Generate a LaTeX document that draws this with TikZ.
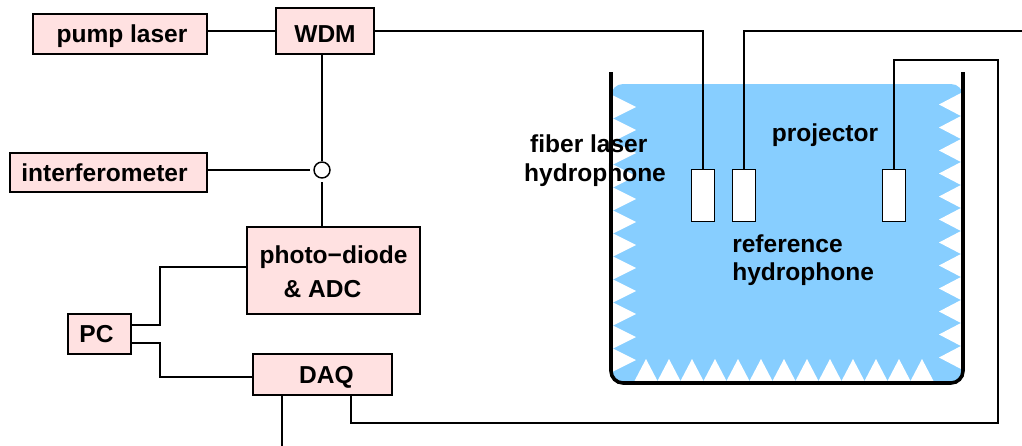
\documentclass[tikz,border=0pt]{standalone}
\usepackage{fontspec}
\setmainfont{Liberation Sans}
\usetikzlibrary{positioning,calc}
\definecolor{boxpink}{RGB}{255,225,225}
\definecolor{waterblue}{RGB}{135,206,255}

\begin{document}
\begin{tikzpicture}
  [x=0.75pt,y=-0.75pt,
   boxN/.style={rectangle,draw,fill=boxpink,line width=1.2pt,inner sep=0pt,
                text height=13.2pt,text depth=0pt,
                font=\fontsize{18.4}{25.5}\selectfont\bfseries},
   sensorN/.style={rectangle,draw,fill=white,line width=0.8pt,
                   minimum width=17pt,minimum height=39pt},
   couplerN/.style={circle,draw,fill=white,line width=1.1pt,inner sep=0pt,minimum size=12pt},
   labelN/.style={inner sep=0pt,align=left,font=\fontsize{18.4}{21.5}\selectfont\bfseries},
   wire/.style={line width=1.4pt}]

  \useasboundingbox (0,0) rectangle (1022,446);

  % tank
  \fill [waterblue,rounded corners=9pt] (611,84) -- (611,383) -- (963,383) -- (963,84) -- cycle;
  \foreach \k in {0,...,11} {
    \fill [white] (613,{95.5+23*\k}) -- (636,{107+23*\k}) -- (613,{118.5+23*\k}) -- cycle;
    \fill [white] (961,{93+23*\k}) -- (939,{104.5+23*\k}) -- (961,{116+23*\k}) -- cycle;
  }
  \foreach \k in {0,...,12}
    \fill [white] ({634.5+23*\k},381) -- ({646+23*\k},359) -- ({657.5+23*\k},381) -- cycle;
  \draw [line width=2.7pt,rounded corners=9pt] (611,72) -- (611,383) -- (963,383) -- (963,72);

  \node at (120,34)    [boxN,minimum width=130.5pt,minimum height=30pt] (pump)   {\hspace*{3pt}pump laser};
  \node at (325,31)    [boxN,minimum width=73.5pt,minimum height=34.5pt,text height=17.5pt] (wdm) {WDM};
  \node at (108.5,172.5) [boxN,minimum width=147.5pt,minimum height=29.5pt] (interf) {interferometer\hspace*{6pt}};
  \node at (322,170)   [couplerN] (coupler) {};
  \node at (333.5,270.5) [boxN,minimum width=130pt,minimum height=65pt,align=left,text height=,text depth=] (photo)
        {\rule{0pt}{15pt}photo\textminus diode\\\hspace*{18pt}\& ADC};
  \node at (99.5,334)  [boxN,minimum width=47pt,minimum height=30pt] (pc)  {PC\hspace*{4.5pt}};
  \node at (322.5,374.5) [boxN,minimum width=104pt,minimum height=30.5pt] (daq) {\hspace*{6pt}DAQ};

  \node at (703,195.5) [sensorN] (fiberS) {};
  \node at (744,195.5) [sensorN] (refS)   {};
  \node at (894,195.5) [sensorN] (projS)  {};

  \node at (595,160.5) [labelN] (fiberL) {\hspace*{4.5pt}fiber laser\\hydrophone};
  \node at (825,135) [labelN] (projL) {projector};
  \node at (732,260) [labelN,anchor=west] (refL) {reference\\hydrophone};

  \coordinate (fiberEnd) at (1022,31);
  \coordinate (daqEnd)   at (282,446);
  \coordinate (topTurn)  at (998,60);
  \coordinate (lowTurn)  at (351,423);
  \coordinate (pcUp)     at (160,267);
  \coordinate (pcDown)   at (160,377);

  \draw [wire] (wdm -| pump.east) -- (wdm.west);
  \draw [wire] (wdm.south -| coupler) -- (coupler.north);
  \draw [wire] (coupler -| interf.east) -- ([xshift=-2.5pt]coupler.west);
  \draw [wire] ([yshift=-2.5pt]coupler.south) -- (coupler |- photo.north);
  \draw [wire] (wdm.east) -| (fiberS.north);
  \draw [wire] (fiberEnd) -| (refS.north);
  \draw [wire] (projS.north) |- (topTurn) |- (lowTurn) -- (lowTurn |- daq.south);
  \draw [wire] (daq.south -| daqEnd) -- (daqEnd);
  \draw [wire] ($(pc.east)+(0,6.5pt)$) -| (pcUp) -- (pcUp -| photo.west);
  \draw [wire] ($(pc.east)+(0,-6.5pt)$) -| (pcDown) -- (pcDown -| daq.west);
\end{tikzpicture}
\end{document}
